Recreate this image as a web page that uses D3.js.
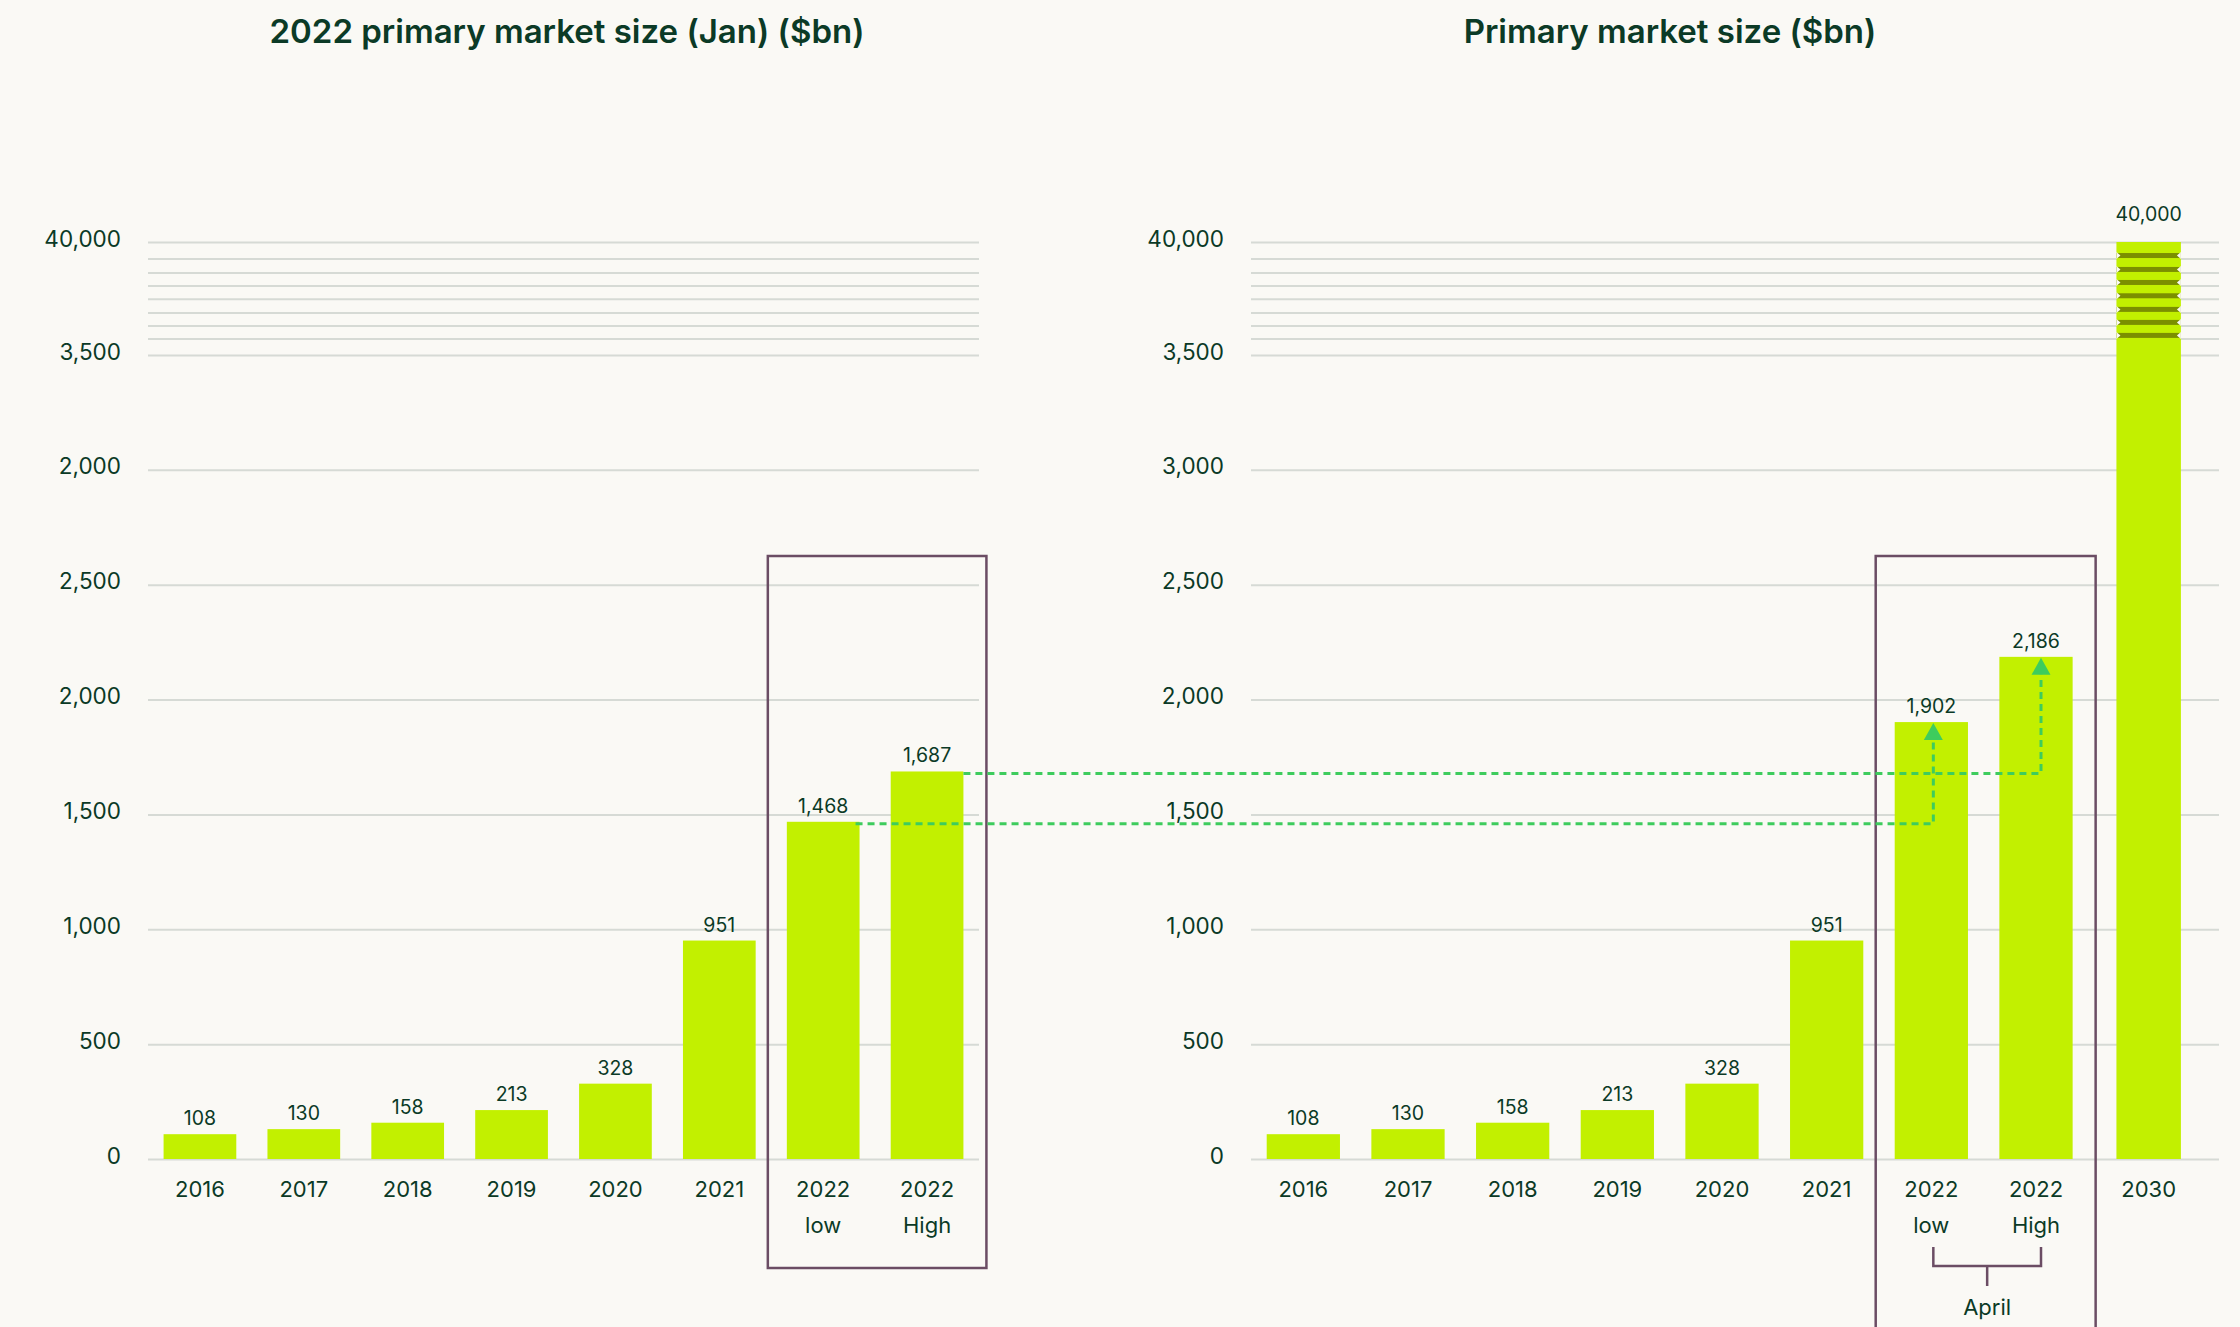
<!DOCTYPE html>
<html>
<head>
<meta charset="utf-8">
<script src="https://cdn.jsdelivr.net/npm/d3@7"></script>
<style>
  body { margin: 0; background: #faf9f5; }
  svg text { font-family: Inter, "Noto Sans", sans-serif; }
</style>
</head>
<body>
<div id="chart"></div>
<script>
// Data
const leftCategories = ['2016', '2017', '2018', '2019', '2020', '2021', '2022 low', '2022 High'];
const leftValues = [108, 130, 158, 213, 328, 951, 1468, 1687];

const rightCategories = ['2016', '2017', '2018', '2019', '2020', '2021', '2022 low', '2022 High', '2030'];
const rightValues = [108, 130, 158, 213, 328, 951, 1902, 2186, 40000];

const tickValues = [0, 500, 1000, 1500, 2000, 2500, 3000, 3500, 40000];
// left panel has "2,000" printed where 3,000 should be
const leftTickLabels = ['0', '500', '1,000', '1,500', '2,000', '2,500', '2,000', '3,500', '40,000'];
const rightTickLabels = ['0', '500', '1,000', '1,500', '2,000', '2,500', '3,000', '3,500', '40,000'];
// axis break lines between 3,500 and 40,000
const breakValues = [8700, 12900, 17100, 21500, 25800, 30000, 34500];

const titles = ['2022 primary market size (Jan) ($bn)', 'Primary market size ($bn)'];

const width = 2240, height = 1327;
const colors = {
  bg: '#faf9f5',
  bar: '#c2f000',
  stripe: '#7b8f00',
  grid: '#d6dad5',
  text: '#0b3a26',
  box: '#6b4d64',
  arrow: '#3ecc5d'
};

const svg = d3.select('#chart').append('svg')
  .attr('width', width)
  .attr('height', height);

svg.append('rect').attr('width', width).attr('height', height).attr('fill', colors.bg);

// piecewise scale: linear up to 3,500 then squeezed up to 40,000
const y = d3.scaleLinear()
  .domain([0, 3500, 40000])
  .range([1159, 355, 242]);

const panels = [
  { cats: leftCategories, vals: leftValues, labels: leftTickLabels, grid: [148, 979], band: [148, 979], title: titles[0], titleX: 567 },
  { cats: rightCategories, vals: rightValues, labels: rightTickLabels, grid: [1251, 2219], band: [1251, 2193], title: titles[1], titleX: 1670 }
];

panels.forEach(p => {
  p.x = d3.scaleBand()
    .domain(p.cats)
    .range(p.band)
    .paddingInner(0.3)
    .paddingOuter(0.15);

  const g = svg.append('g');

  // title
  g.append('text')
    .attr('x', p.titleX)
    .attr('y', 43)
    .attr('text-anchor', 'middle')
    .attr('font-size', 33)
    .attr('font-weight', 600)
    .attr('fill', colors.text)
    .text(p.title);

  // gridlines + tick labels
  const axis = d3.axisLeft(y)
    .tickValues(tickValues)
    .tickSize(-(p.grid[1] - p.grid[0]))
    .tickPadding(27)
    .tickFormat((d, i) => p.labels[i]);

  const ax = g.append('g')
    .attr('transform', `translate(${p.grid[0]},0)`)
    .call(axis);
  ax.select('.domain').remove();
  ax.selectAll('.tick line').attr('stroke', colors.grid).attr('stroke-width', 2);
  ax.selectAll('.tick text')
    .attr('fill', colors.text)
    .attr('font-size', 22.5)
    .attr('font-family', 'Inter, sans-serif')
    .attr('dy', '0.18em');

  // break lines
  g.selectAll('.break')
    .data(breakValues)
    .enter()
    .append('line')
    .attr('class', 'break')
    .attr('x1', p.grid[0])
    .attr('x2', p.grid[1])
    .attr('y1', d => y(d))
    .attr('y2', d => y(d))
    .attr('stroke', colors.grid)
    .attr('stroke-width', 2);

  const data = p.cats.map((c, i) => ({ cat: c, val: p.vals[i] }));
  const bw = p.x.bandwidth();
  const barW = d => d.val > 3500 ? bw * 0.88 : bw;
  const barX = d => p.x(d.cat) + (bw - barW(d)) / 2 + (d.val > 3500 ? 8 : 0);

  // bars
  g.selectAll('.bar')
    .data(data)
    .enter()
    .append('rect')
    .attr('class', 'bar')
    .attr('x', barX)
    .attr('y', d => y(d.val))
    .attr('width', barW)
    .attr('height', d => y(0) - y(d.val))
    .attr('fill', colors.bar);

  // break stripes on bars that pass 3,500
  data.filter(d => d.val > 3500).forEach(d => {
    const x0 = barX(d), w = barW(d);
    breakValues.forEach(b => {
      const yy = y(b) - 6;
      g.append('rect')
        .attr('x', x0)
        .attr('y', yy)
        .attr('width', w)
        .attr('height', 5)
        .attr('fill', colors.stripe);
      [[x0, 1], [x0 + w, -1]].forEach(([ex, dir]) => {
        g.append('path')
          .attr('d', `M${ex},${yy - 1}L${ex + dir * 4},${yy + 2.5}L${ex},${yy + 6}Z`)
          .attr('fill', colors.bg);
      });
    });
  });

  const centre = d => barX(d) + barW(d) / 2;

  // value labels
  g.selectAll('.val')
    .data(data)
    .enter()
    .append('text')
    .attr('class', 'val')
    .attr('x', centre)
    .attr('y', d => y(d.val) - (d.val > 3500 ? 21 : 9))
    .attr('text-anchor', 'middle')
    .attr('font-size', 19.5)
    .attr('fill', colors.text)
    .text(d => d3.format(',')(d.val));

  // category labels (two lines for the 2022 pair)
  const cl = g.selectAll('.cat')
    .data(data)
    .enter()
    .append('text')
    .attr('class', 'cat')
    .attr('text-anchor', 'middle')
    .attr('font-size', 22)
    .attr('fill', colors.text);
  cl.selectAll('tspan')
    .data(d => d.cat.split(' ').map(t => ({ t, cx: centre(d) })))
    .enter()
    .append('tspan')
    .attr('x', d => d.cx)
    .attr('y', (d, i) => y(0) + 38 + i * 36)
    .text(d => d.t);

  // box round the 2022 pair
  const bx0 = p.x('2022 low') - 19;
  const bx1 = p.x('2022 High') + bw + 23;
  g.append('rect')
    .attr('x', bx0)
    .attr('y', y(2625))
    .attr('width', bx1 - bx0)
    .attr('height', (p.cats.length === 9 ? height + 10 : 1268) - y(2625))
    .attr('fill', 'none')
    .attr('stroke', colors.box)
    .attr('stroke-width', 2.5);
});

// April bracket on the right panel
const R = panels[1];
const rbw = R.x.bandwidth();
const cLow = R.x('2022 low') + rbw / 2 + 2;
const cHigh = R.x('2022 High') + rbw / 2 + 5;
const brTop = y(0) + 88, brBot = y(0) + 107;
svg.append('path')
  .attr('d', `M${cLow},${brTop}V${brBot}H${cHigh}V${brTop}M${(cLow + cHigh) / 2},${brBot}V${brBot + 20}`)
  .attr('fill', 'none')
  .attr('stroke', colors.box)
  .attr('stroke-width', 2.5);
svg.append('text')
  .attr('x', (cLow + cHigh) / 2)
  .attr('y', 1315)
  .attr('text-anchor', 'middle')
  .attr('font-size', 22)
  .attr('fill', colors.text)
  .text('April');

// dashed connectors from Jan estimates to April estimates
const L = panels[0];
const lbw = L.x.bandwidth();
const connectors = [
  { fromCat: '2022 low', fromVal: leftValues[6], toCat: '2022 low', toVal: rightValues[6], startInset: 4, shift: 2 },
  { fromCat: '2022 High', fromVal: leftValues[7], toCat: '2022 High', toVal: rightValues[7], startInset: 0, shift: 5 }
];
connectors.forEach(c => {
  const x0 = L.x(c.fromCat) + lbw - c.startInset;
  const yh = y(c.fromVal) + 2;
  const xt = R.x(c.toCat) + rbw / 2 + c.shift;
  const tipY = y(c.toVal) + 1;
  svg.append('path')
    .attr('d', `M${x0},${yh}H${xt}V${tipY + 17}`)
    .attr('fill', 'none')
    .attr('stroke', colors.arrow)
    .attr('stroke-width', 3)
    .attr('stroke-dasharray', '7,5');
  svg.append('path')
    .attr('d', `M${xt},${tipY}L${xt + 9.5},${tipY + 17}L${xt - 9.5},${tipY + 17}Z`)
    .attr('fill', colors.arrow);
});
</script>
</body>
</html>
